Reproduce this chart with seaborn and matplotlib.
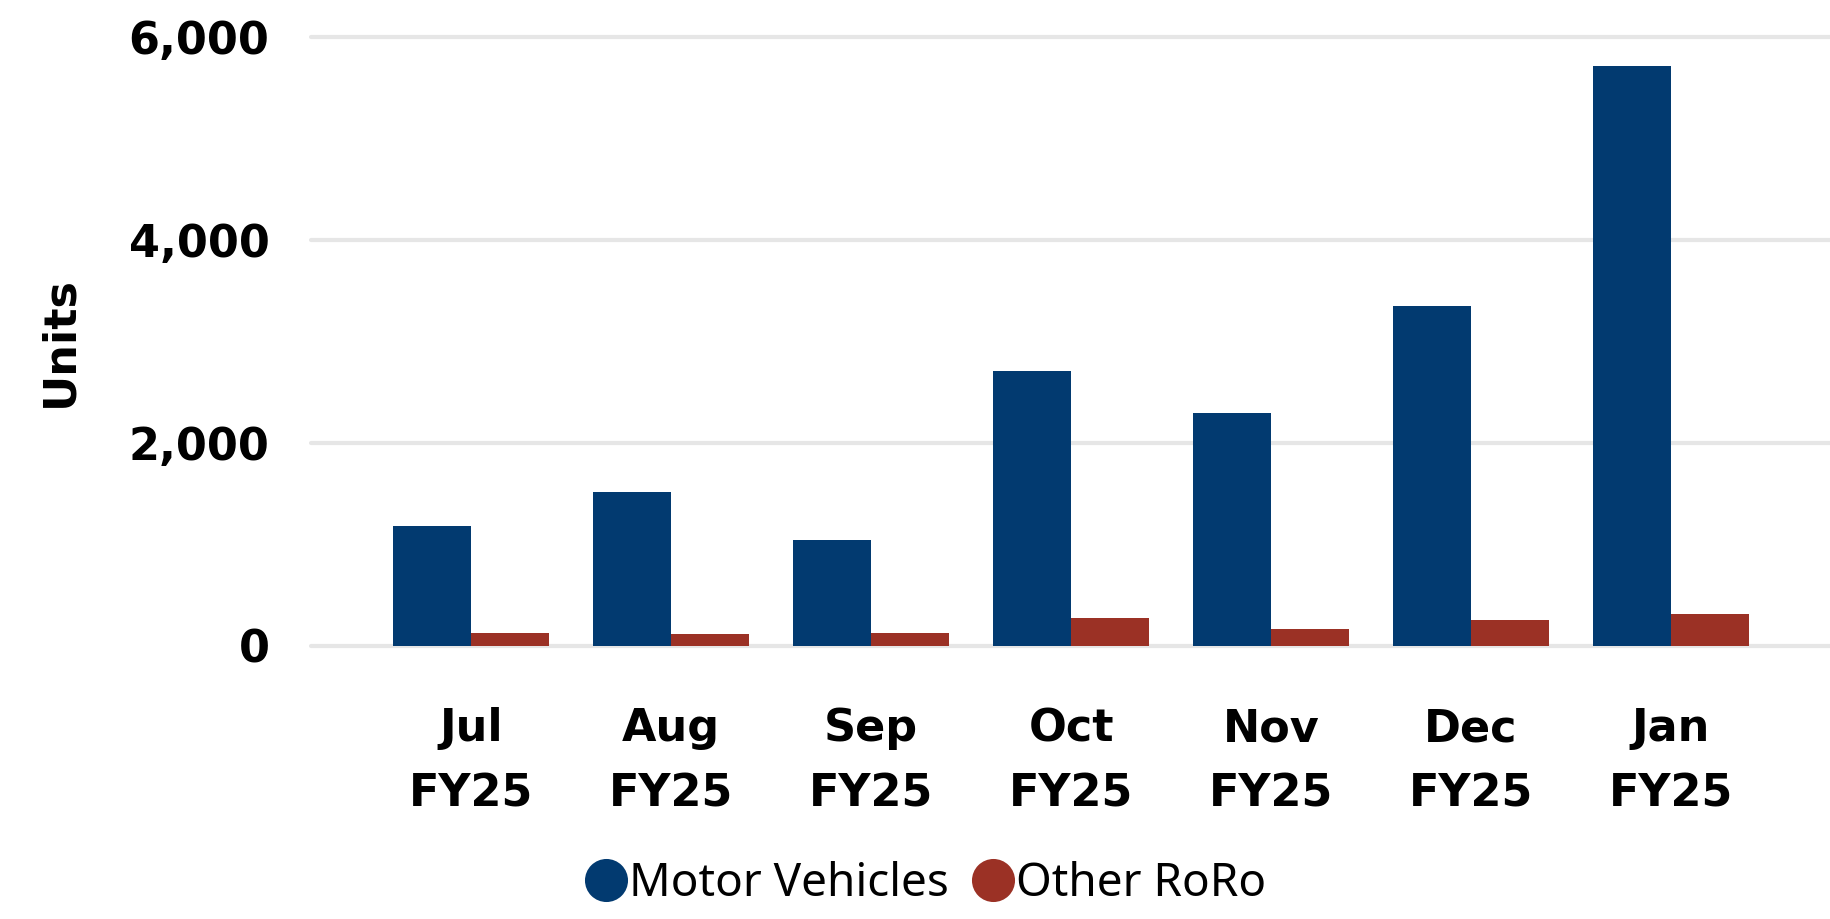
import matplotlib
matplotlib.use("Agg")
import matplotlib.pyplot as plt
from matplotlib.lines import Line2D
import seaborn as sns
import pandas as pd

months = ['Jul\nFY25', 'Aug\nFY25', 'Sep\nFY25', 'Oct\nFY25', 'Nov\nFY25', 'Dec\nFY25', 'Jan\nFY25']
motor_vehicles = [1178, 1515, 1043, 2708, 2295, 3350, 5712]
other_roro = [125, 122, 132, 274, 163, 254, 311]
series_names = ['Motor Vehicles', 'Other RoRo']
colors = ['#023a70', '#9b3125']

df = pd.DataFrame({
    'Month': months * 2,
    'Units': motor_vehicles + other_roro,
    'Series': [series_names[0]] * len(months) + [series_names[1]] * len(months),
})

sns.set_style('white')
plt.rcParams['font.family'] = ['DejaVu Sans']
plt.rcParams['text.color'] = 'black'
plt.rcParams['axes.labelcolor'] = 'black'
plt.rcParams['xtick.color'] = 'black'
plt.rcParams['ytick.color'] = 'black'

fig = plt.figure(figsize=(18.31, 9.19), dpi=100)
ax = fig.add_axes([0.1699, 0.2971, 0.8301, 0.6626])

sns.barplot(data=df, x='Month', y='Units', hue='Series', order=months,
            hue_order=series_names, palette=colors, width=0.78,
            linewidth=0, saturation=1, ax=ax, legend=False)

# axes, ticks and grid
ax.set_xlim(-0.8, 6.8)
ax.set_ylim(0, 6000)
ax.set_yticks([0, 2000, 4000, 6000])
ax.set_yticklabels(['0', '2,000', '4,000', '6,000'], fontsize=32, fontweight='bold')
ax.set_xticks(range(len(months)))
ax.set_xticklabels(months, fontsize=32, fontweight='bold', linespacing=1.65)
ax.tick_params(axis='y', length=0, pad=30)
ax.tick_params(axis='x', length=0, pad=44)
ax.set_xlabel('')
ax.set_ylabel('Units', fontsize=32, fontweight='bold', labelpad=34)
ax.yaxis.grid(True, color='#e6e6e6', linewidth=3)
ax.set_axisbelow(True)
for gl in ax.get_ygridlines():
    gl.set_clip_on(False)
for s in ax.spines.values():
    s.set_visible(False)

# legend with round markers
handles = [Line2D([0], [0], marker='o', linestyle='', markersize=31,
                  markerfacecolor=c, markeredgewidth=0) for c in colors]
fig.legend(handles, series_names, loc='lower center', bbox_to_anchor=(0.505, -0.032),
           ncol=2, frameon=False, handletextpad=0.0, columnspacing=0.45,
           handlelength=1.0, prop={'family': 'Noto Sans', 'size': 33})

fig.savefig('out.png', dpi=100)
